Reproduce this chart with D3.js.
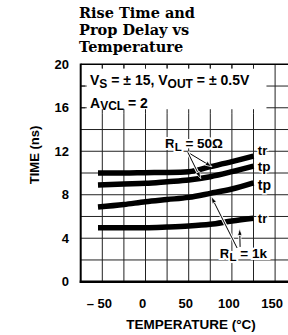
<!DOCTYPE html>
<html>
<head>
<meta charset="utf-8">
<script src="https://cdn.jsdelivr.net/npm/d3@7"></script>
<style>
  body { margin: 0; background: #fff; }
  svg { display: block; }
  text { font-family: "Liberation Sans", Arial, sans-serif; font-weight: bold; fill: #000; }
</style>
</head>
<body>
<div id="chart"></div>
<script>
// Values
const temps  = [-55, -25, 0, 25, 50, 75, 100, 125];
const trFast = [10.0, 10.0, 10.03, 10.05, 10.12, 10.58, 11.04, 11.56];  // RL = 50 ohm, tr
const tpFast = [8.9, 8.99, 9.05, 9.2, 9.36, 9.66, 10.12, 10.64];        // RL = 50 ohm, tp
const tpSlow = [6.87, 7.1, 7.36, 7.56, 7.76, 8.13, 8.53, 9.1];           // RL = 1k, tp
const trSlow = [4.97, 4.97, 4.97, 5.03, 5.12, 5.28, 5.58, 5.83];         // RL = 1k, tr
const curveNames = ["tr", "tp", "tp", "tr"];

const xTicks = [-50, 0, 50, 100, 150];
const xTickLabels = ["\u2013 50", "0", "50", "100", "150"];
const yTicks = [0, 4, 8, 12, 16, 20];
const titleLines = ["Rise Time and", "Prop Delay vs", "Temperature"];

const W = 288, H = 335;
const svg = d3.select("#chart").append("svg")
    .attr("width", W)
    .attr("height", H);

// scales: plot runs past the right edge of the picture
const x = d3.scaleLinear().domain([-75, 175]).range([80.7, 296.7]);
const y = d3.scaleLinear().domain([0, 20]).range([281.7, 64.3]);

// title
svg.append("g").selectAll("text")
  .data(titleLines)
  .enter().append("text")
    .attr("x", 79)
    .attr("y", (d, i) => 18 + i * 17)
    .style("font-family", "'DejaVu Serif', serif")
    .style("font-size", "14.5px")
    .text(d => d);

// grid
const grid = svg.append("g").attr("stroke", "#222").attr("stroke-width", 1);
grid.selectAll(".vg")
  .data(d3.range(-50, 176, 25))
  .enter().append("line")
    .attr("x1", d => x(d)).attr("x2", d => x(d))
    .attr("y1", y(20)).attr("y2", y(0));
grid.selectAll(".hg")
  .data(d3.range(2, 20, 2))
  .enter().append("line")
    .attr("x1", x(-75)).attr("x2", x(175))
    .attr("y1", d => y(d)).attr("y2", d => y(d));

// white box behind the conditions text
svg.append("rect")
    .attr("x", x(-70)).attr("y", y(19.6))
    .attr("width", x(140) - x(-70))
    .attr("height", y(15.5) - y(19.6))
    .attr("fill", "#fff");

// short ticks left by the box
const ticks = svg.append("g").attr("stroke", "#222").attr("stroke-width", 1);
ticks.selectAll(".tt")
  .data(d3.range(-50, 126, 25))
  .enter().append("line")
    .attr("x1", d => x(d)).attr("x2", d => x(d))
    .attr("y1", y(20)).attr("y2", y(20) + 4);
ticks.selectAll(".tb")
  .data(d3.range(-50, 126, 25))
  .enter().append("line")
    .attr("x1", d => x(d)).attr("x2", d => x(d))
    .attr("y1", y(15.5)).attr("y2", y(15.5) - 4);
ticks.selectAll(".tl")
  .data([16, 18])
  .enter().append("line")
    .attr("x1", x(-75)).attr("x2", x(-75) + 6)
    .attr("y1", d => y(d)).attr("y2", d => y(d));

// frame
svg.append("line")
    .attr("x1", x(-75)).attr("x2", x(175))
    .attr("y1", y(20)).attr("y2", y(20))
    .attr("stroke", "#000").attr("stroke-width", 1.5);
svg.append("line")
    .attr("x1", x(-75)).attr("x2", x(-75))
    .attr("y1", y(20) - 0.75).attr("y2", y(0) + 1.2)
    .attr("stroke", "#000").attr("stroke-width", 2);
svg.append("line")
    .attr("x1", x(-75) - 1).attr("x2", x(175))
    .attr("y1", y(0)).attr("y2", y(0))
    .attr("stroke", "#000").attr("stroke-width", 2.5);

// axis tick labels
svg.append("g").selectAll("text")
  .data(yTicks)
  .enter().append("text")
    .attr("x", 69)
    .attr("y", d => y(d))
    .attr("dy", "0.36em")
    .attr("text-anchor", "end")
    .style("font-size", "13px")
    .text(d => d);
svg.append("g").selectAll("text")
  .data(xTicks)
  .enter().append("text")
    .attr("x", d => x(d) - 3)
    .attr("y", 308)
    .attr("text-anchor", "middle")
    .style("font-size", "13px")
    .text((d, i) => xTickLabels[i]);

svg.append("text")
    .attr("x", 191).attr("y", 329)
    .attr("text-anchor", "middle")
    .style("font-size", "13.5px")
    .text("TEMPERATURE (\u00B0C)");
svg.append("text")
    .attr("transform", "translate(39,155) rotate(-90)")
    .attr("text-anchor", "middle")
    .style("font-size", "13px")
    .text("TIME (ns)");

// conditions text
const cond = svg.append("text")
    .attr("x", 90).attr("y", y(18) - 1)
    .style("font-size", "14px");
cond.append("tspan").text("V");
cond.append("tspan").attr("dy", 3).style("font-size", "12px").text("S");
cond.append("tspan").attr("dy", -3).text(" = \u00B1 15, V");
cond.append("tspan").attr("dy", 3).style("font-size", "12px").text("OUT");
cond.append("tspan").attr("dy", -3).text(" = \u00B1  0.5V");

const acl = svg.append("text")
    .attr("x", 90).attr("y", y(16))
    .style("font-size", "14px");
acl.append("tspan").text("A");
acl.append("tspan").attr("dy", 2).style("font-size", "12px").text("VCL");
acl.append("tspan").attr("dy", -2).text(" = 2");

// curves
const series = [trFast, tpFast, tpSlow, trSlow];
const line = d3.line()
    .x((d, i) => x(temps[i]))
    .y(d => y(d))
    .curve(d3.curveMonotoneX);

svg.append("g").selectAll("path")
  .data(series)
  .enter().append("path")
    .attr("d", line)
    .attr("fill", "none")
    .attr("stroke", "#000")
    .attr("stroke-width", 5.5);

// curve end labels
const labelDy = [-1, 5, 7, 5];
const labelSize = [13, 13.5, 14, 13];
svg.append("g").selectAll("text")
  .data(series)
  .enter().append("text")
    .attr("x", x(130))
    .attr("y", (d, i) => y(d[d.length - 1]) + labelDy[i])
    .style("font-size", (d, i) => labelSize[i] + "px")
    .attr("stroke", "#fff").attr("stroke-width", 3)
    .attr("paint-order", "stroke")
    .text((d, i) => curveNames[i]);

// arrows to curves
function valueAt(arr, t) {
  return d3.scaleLinear().domain(temps).range(arr)(t);
}
const arrows = [
  { from: [49, 11.9], to: [77, valueAt(trFast, 77) - 0.05] },
  { from: [49, 11.9], to: [64, valueAt(tpFast, 64) - 0.05] },
  { from: [106, 3.1], to: [76, valueAt(tpSlow, 76) - 0.3] },
  { from: [109.5, 3.2], to: [109, 4.9] }
];

const ag = svg.append("g");
arrows.forEach(a => {
  const x1 = x(a.from[0]), y1 = y(a.from[1]);
  const x2 = x(a.to[0]), y2 = y(a.to[1]);
  const ang = Math.atan2(y2 - y1, x2 - x1);
  const len = 7, half = 2.2;
  const bx = x2 - len * Math.cos(ang), by = y2 - len * Math.sin(ang);
  ag.append("line")
      .attr("x1", x1).attr("y1", y1).attr("x2", bx).attr("y2", by)
      .attr("stroke", "#fff").attr("stroke-width", 3);
  ag.append("line")
      .attr("x1", x1).attr("y1", y1).attr("x2", bx).attr("y2", by)
      .attr("stroke", "#000").attr("stroke-width", 1);
  const px = -Math.sin(ang) * half, py = Math.cos(ang) * half;
  ag.append("path")
      .attr("d", `M${x2},${y2}L${bx + px},${by + py}L${bx - px},${by - py}Z`)
      .attr("fill", "#000")
      .attr("stroke", "#fff").attr("stroke-width", 0.8);
});

// RL labels
function rlLabel(t, v, value) {
  const g = svg.append("text")
      .attr("x", x(t)).attr("y", y(v))
      .style("font-size", "13.5px")
      .attr("stroke", "#fff").attr("stroke-width", 4)
      .attr("paint-order", "stroke");
  g.append("tspan").text("R");
  g.append("tspan").attr("dy", 3).style("font-size", "11.5px").text("L");
  g.append("tspan").attr("dy", -3).text(" = " + value);
}
rlLabel(22.5, 12.3, "50\u03A9");
rlLabel(86, 2.2, "1k");
</script>
</body>
</html>
